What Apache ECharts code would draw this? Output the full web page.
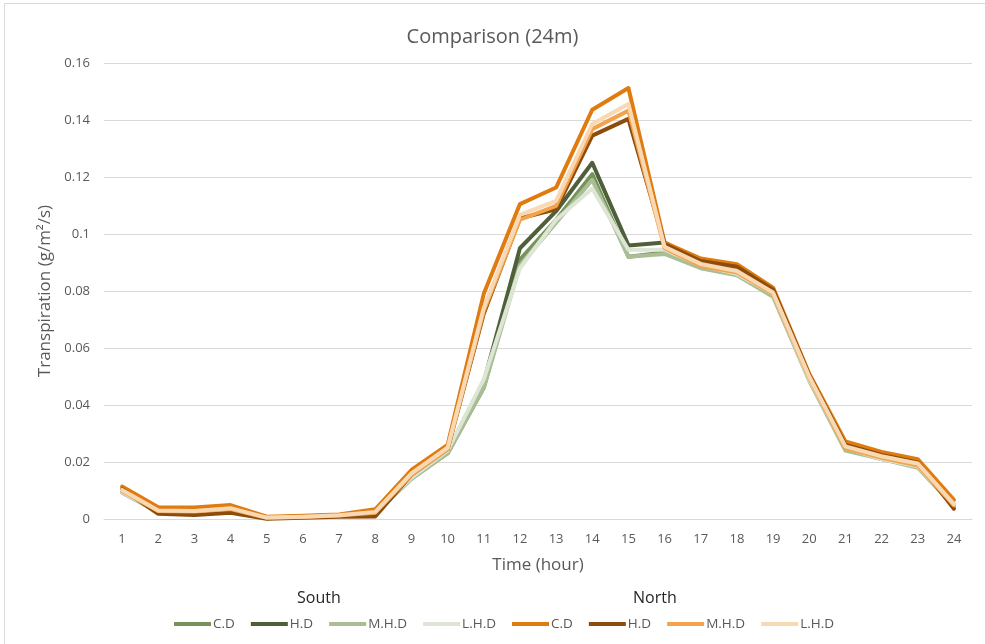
<!DOCTYPE html>
<html><head><meta charset="utf-8">
<script src="https://cdn.jsdelivr.net/npm/echarts@6/dist/echarts.min.js"></script>
<style>html,body{margin:0;padding:0;background:#fff}#c{width:985px;height:644px}</style>
</head><body><div id="c"></div>
<script>
const hours = ['1','2','3','4','5','6','7','8','9','10','11','12','13','14','15','16','17','18','19','20','21','22','23','24'];
const yTicks = [0, 0.02, 0.04, 0.06, 0.08, 0.1, 0.12, 0.14, 0.16];

const southCD  = [0.0095,0.0025,0.0020,0.0030,0.0003,0.0008,0.0012,0.0020,0.0145,0.0230,0.0460,0.0910,0.1050,0.1210,0.0920,0.0935,0.0885,0.0860,0.0785,0.0490,0.0245,0.0210,0.0185,0.0045];
const southHD  = [0.0100,0.0030,0.0025,0.0035,0.0005,0.0010,0.0013,0.0022,0.0150,0.0235,0.0480,0.0950,0.1080,0.1250,0.0960,0.0970,0.0900,0.0870,0.0790,0.0495,0.0250,0.0215,0.0190,0.0050];
const southMHD = [0.0092,0.0024,0.0020,0.0030,0.0003,0.0008,0.0012,0.0020,0.0140,0.0230,0.0460,0.0890,0.1040,0.1190,0.0920,0.0930,0.0880,0.0855,0.0780,0.0485,0.0240,0.0210,0.0180,0.0045];
const southLHD = [0.0095,0.0025,0.0020,0.0030,0.0004,0.0008,0.0012,0.0020,0.0145,0.0240,0.0490,0.0880,0.1050,0.1160,0.0945,0.0945,0.0890,0.0860,0.0790,0.0490,0.0250,0.0210,0.0185,0.0050];
const northCD  = [0.0114,0.0041,0.0040,0.0049,0.0008,0.0011,0.0016,0.0034,0.0172,0.0260,0.0790,0.1105,0.1163,0.1436,0.1512,0.0970,0.0914,0.0894,0.0812,0.0510,0.0272,0.0235,0.0210,0.0067];
const northHD  = [0.0105,0.0018,0.0014,0.0022,0.0001,0.0004,0.0008,0.0009,0.0155,0.0245,0.0720,0.1055,0.1087,0.1345,0.1404,0.0965,0.0905,0.0885,0.0805,0.0505,0.0260,0.0225,0.0198,0.0036];
const northMHD = [0.0098,0.0028,0.0026,0.0035,0.0004,0.0007,0.0012,0.0022,0.0155,0.0245,0.0730,0.1050,0.1099,0.1368,0.1433,0.0950,0.0888,0.0865,0.0790,0.0495,0.0248,0.0215,0.0188,0.0048];
const northLHD = [0.0102,0.0030,0.0028,0.0038,0.0005,0.0008,0.0013,0.0025,0.0160,0.0250,0.0740,0.1067,0.1116,0.1386,0.1456,0.0955,0.0895,0.0870,0.0795,0.0500,0.0255,0.0220,0.0195,0.0052];

const seriesNames = ['S C.D','S H.D','S M.H.D','S L.H.D','N C.D','N H.D','N M.H.D','N L.H.D'];
const seriesData = [southCD, southHD, southMHD, southLHD, northCD, northHD, northMHD, northLHD];
const colors = ['#77935B','#4E5F3A','#A9BE95','#DDE5D5','#E07B10','#8C4C0C','#F2A34C','#F9D8B4'];

const FONT = '"Open Sans", "Noto Sans", sans-serif';
const chart = echarts.init(document.getElementById('c'), null, {renderer: 'canvas'});
chart.setOption({
  animation: false,
  color: colors,
  textStyle: {fontFamily: FONT},
  title: {
    text: 'Comparison (24m)', left: 'center', top: 22,
    textStyle: {fontSize: 20, fontWeight: 'normal', color: '#595959', fontFamily: FONT}
  },
  grid: {left: 104, right: 13, top: 63, bottom: 125},
  legend: {
    left: 169, top: 612, itemWidth: 37, itemHeight: 4, itemGap: 16, icon: 'rect',
    data: seriesNames,
    formatter: n => n.slice(2),
    textStyle: {color: '#595959', fontSize: 13.5, fontFamily: FONT, padding: [0,0,0,-3]}
  },
  graphic: [
    {type: 'rect', shape: {x: 4.5, y: 3.5, width: 990, height: 650}, style: {fill: 'none', stroke: '#d9d9d9', lineWidth: 1}, silent: true},
    {type: 'text', left: 297, top: 590, style: {text: 'South', fontSize: 16, fill: '#262626', fontFamily: FONT}},
    {type: 'text', left: 633, top: 590, style: {text: 'North', fontSize: 16, fill: '#262626', fontFamily: FONT}}
  ],
  xAxis: {
    type: 'category', data: hours, boundaryGap: true,
    name: 'Time (hour)', nameLocation: 'middle', nameGap: 38,
    nameTextStyle: {fontSize: 17, color: '#595959', fontFamily: FONT},
    axisLine: {lineStyle: {color: '#d9d9d9', width: 1}},
    axisTick: {show: false},
    axisLabel: {color: '#595959', fontSize: 13, margin: 14, fontFamily: FONT}
  },
  yAxis: {
    type: 'value', min: yTicks[0], max: yTicks[yTicks.length-1], interval: 0.02,
    name: 'Transpiration (g/m²/s)', nameLocation: 'middle', nameGap: 48,
    nameTextStyle: {fontSize: 17, color: '#595959', fontFamily: FONT},
    axisLine: {show: false}, axisTick: {show: false},
    axisLabel: {color: '#595959', fontSize: 13, margin: 14, fontFamily: FONT},
    splitLine: {lineStyle: {color: '#d9d9d9', width: 1}}
  },
  series: seriesNames.map((n, i) => ({
    name: n, type: 'line', data: seriesData[i], symbol: 'none',
    lineStyle: {width: 4, color: colors[i], join: 'round', cap: 'round'},
    itemStyle: {color: colors[i]}
  }))
});
</script></body></html>
